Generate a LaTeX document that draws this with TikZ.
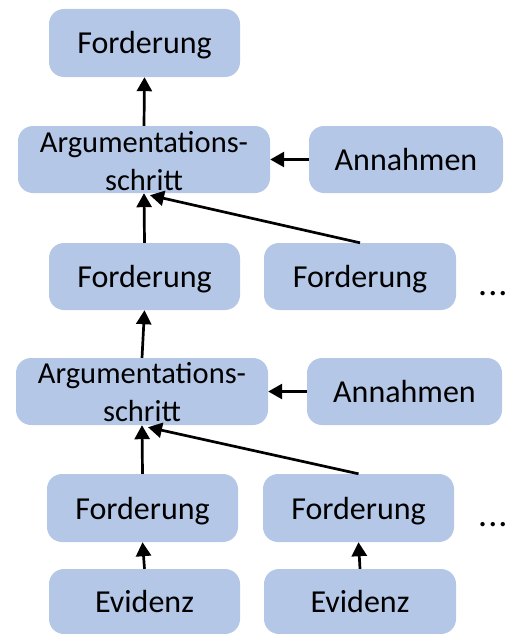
\documentclass[tikz,border=0pt]{standalone}
\usepackage{fontspec}
\setmainfont{Carlito}
\usetikzlibrary{arrows.meta}
\definecolor{boxblue}{HTML}{B4C7E7}
\tikzset{
  box/.style={fill=boxblue, rounded corners=15pt, inner sep=0pt, text height=22pt, text depth=0pt, font=\fontsize{32}{38}\selectfont},
  lbl/.style={inner sep=0pt, anchor=base, font=\fontsize{30.5}{37}\selectfont},
  dotslbl/.style={inner sep=0pt, anchor=base west, font=\fontsize{36}{40}\selectfont},
  conn/.style={line width=2.7pt, -{Triangle[length=14pt,width=15pt]}}
}
\begin{document}
\begin{tikzpicture}[x=1pt,y=-1pt]
\useasboundingbox (0,0) rectangle (504,634);
\clip (0,0) rectangle (504,634);
\node[box, minimum width=191pt, minimum height=68pt] (f0) at (144.5,43) {Forderung};
\node[box, minimum width=252pt, minimum height=67pt] (arg1) at (144,159.5) {};
\node[lbl] (arg1a) at (144,152) {Argumentations-};
\node[lbl] (arg1b) at (144,190.5) {schritt};
\node[box, minimum width=194pt, minimum height=67pt] (ann1) at (406,159.5) {Annahmen};
\node[box, minimum width=191pt, minimum height=67pt] (f2a) at (144.5,276.5) {Forderung};
\node[box, minimum width=192pt, minimum height=67pt] (f2b) at (360,276.5) {Forderung};
\node[dotslbl] (dots1) at (478,295) {.\kern1pt.\kern1pt.};
\node[box, minimum width=252pt, minimum height=67pt] (arg2) at (142,391.5) {};
\node[lbl] (arg2a) at (142,383.5) {Argumentations-};
\node[lbl] (arg2b) at (142,421.5) {schritt};
\node[box, minimum width=195pt, minimum height=67pt] (ann2) at (404.5,391.5) {Annahmen};
\node[box, minimum width=191pt, minimum height=68pt] (f3a) at (142.5,508) {Forderung};
\node[box, minimum width=191pt, minimum height=68pt] (f3b) at (358.5,508) {Forderung};
\node[dotslbl] (dots2) at (478,526) {.\kern1pt.\kern1pt.};
\node[box, minimum width=191pt, minimum height=65pt] (ev1) at (144.5,601.5) {Evidenz};
\node[box, minimum width=192pt, minimum height=65pt] (ev2) at (360,601.5) {Evidenz};
\draw[conn] (arg1.north) -- (f0.south);
\draw[conn] (ann1.west) -- (arg1.east);
\draw[conn] (f2a.north) -- (arg1.south);
\draw[conn] (f2b.north) -- ([xshift=6pt,yshift=-2pt]arg1.south);
\draw[conn] (arg2.north) -- (f2a.south);
\draw[conn] (ann2.west) -- (arg2.east);
\draw[conn] (f3a.north) -- (arg2.south);
\draw[conn] (f3b.north) -- ([xshift=6pt,yshift=-2pt]arg2.south);
\draw[conn] (ev1.north) -- (f3a.south);
\draw[conn] (ev2.north) -- (f3b.south);
\end{tikzpicture}
\end{document}
